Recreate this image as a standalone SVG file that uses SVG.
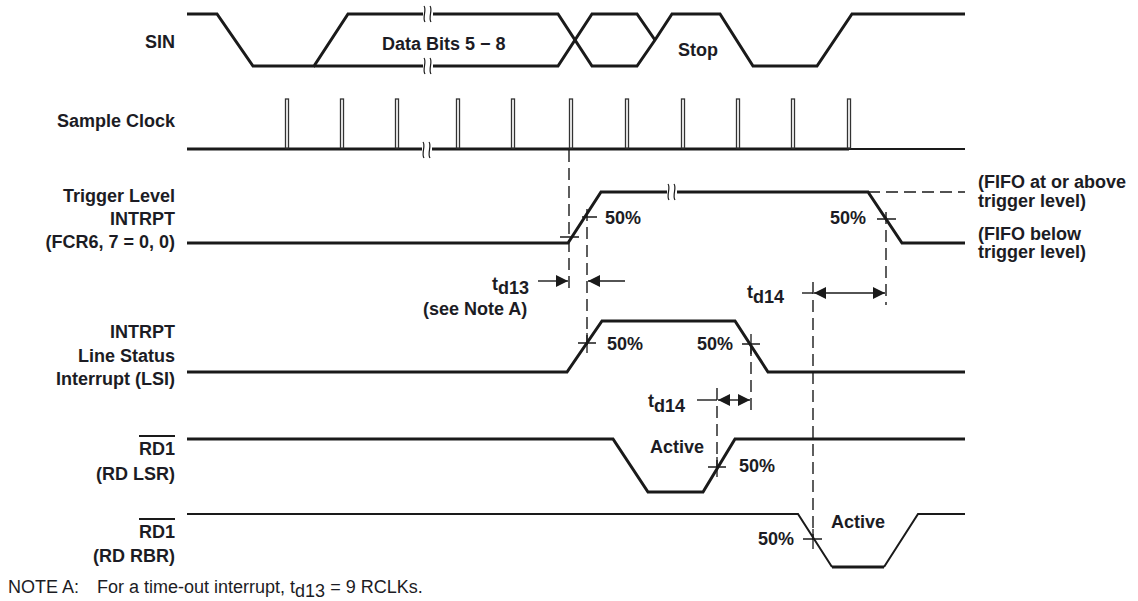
<svg xmlns="http://www.w3.org/2000/svg" width="1138" height="601" viewBox="0 0 1138 601">
<style>
text{font-family:"Liberation Sans",Arial,sans-serif;font-size:18px;fill:#1c1c24;font-weight:bold}
.lbl{text-anchor:end}
.mid{text-anchor:middle}
.note{font-weight:normal}
.tr{fill:none;stroke:#1a1a1a;stroke-width:3;stroke-linejoin:miter}
.thin{fill:none;stroke:#1a1a1a;stroke-width:2}
.dash{fill:none;stroke:#1a1a1a;stroke-width:1.4;stroke-dasharray:12 6}
.x{fill:none;stroke:#1a1a1a;stroke-width:1.3}
.ar{fill:none;stroke:#1a1a1a;stroke-width:1.4}
.pulse{fill:#fff;stroke:#333;stroke-width:1.3}
.ob{stroke:#1a1a1a;stroke-width:2}
</style>
<defs>
<marker id="ah" viewBox="0 0 10 10" refX="10" refY="5" markerWidth="12" markerHeight="12" markerUnits="userSpaceOnUse" orient="auto-start-reverse">
<path d="M0,0 L10,5 L0,10 z" fill="#1a1a1a"/>
</marker>
<g id="brk">
<rect x="-5" y="-7" width="10" height="14" fill="#fff"/>
<path d="M-4,-8 C-1,-4 -6,3 -3,8 M2,-8 C5,-4 0,3 3,8" fill="none" stroke="#1a1a1a" stroke-width="1.2"/>
</g>
</defs>
<rect width="1138" height="601" fill="#fff"/>

<g id="sin">
<text class="lbl" x="175" y="48">SIN</text>
<path class="tr" d="M187,14 H217 L253,66 H314 L348,14 H558 L592,66 H637 L655,40 L672,14 H720 L753,66 H817 L852,14 H965"/>
<path class="tr" d="M314,66 H558 L592,14 H637 L655,40"/>
<use href="#brk" x="428" y="14"/>
<use href="#brk" x="428" y="66"/>
<text x="382" y="50">Data Bits 5 − 8</text>
<text x="678" y="56">Stop</text>
</g>

<g id="sample-clock">
<text class="lbl" x="175" y="127">Sample Clock</text>
<path class="tr" d="M187,149 H849"/>
<path class="thin" d="M849,149 H965"/>
<rect class="pulse" x="285.5" y="99" width="3" height="49"/>
<rect class="pulse" x="340.5" y="99" width="3" height="49"/>
<rect class="pulse" x="395.5" y="99" width="3" height="49"/>
<rect class="pulse" x="456.5" y="99" width="3" height="49"/>
<rect class="pulse" x="511.5" y="99" width="3" height="49"/>
<rect class="pulse" x="569.5" y="99" width="3" height="49"/>
<rect class="pulse" x="625.5" y="99" width="3" height="49"/>
<rect class="pulse" x="681.5" y="99" width="3" height="49"/>
<rect class="pulse" x="736.5" y="99" width="3" height="49"/>
<rect class="pulse" x="791.5" y="99" width="3" height="49"/>
<rect class="pulse" x="847.5" y="99" width="3" height="49"/>
<use href="#brk" x="427" y="150"/>
</g>

<g id="trigger-intrpt">
<text class="lbl" x="175" y="202">Trigger Level</text>
<text class="lbl" x="175" y="225">INTRPT</text>
<text class="lbl" x="175" y="248">(FCR6, 7 = 0, 0)</text>
<path class="tr" d="M187,243 H568 L601,192 H868 L902,243 H965"/>
<path class="dash" d="M868,192 H965"/>
<use href="#brk" x="672" y="192"/>
<path class="x" d="M560,237 H579 M582,217 H597 M877,219 H896"/>
<text class="mid" x="623" y="224">50%</text>
<text class="mid" x="848" y="224">50%</text>
<text x="978" y="188">(FIFO at or above</text>
<text x="978" y="207">trigger level)</text>
<text x="978" y="240">(FIFO below</text>
<text x="978" y="258">trigger level)</text>
</g>

<g id="intrpt-lsi">
<text class="lbl" x="175" y="338">INTRPT</text>
<text class="lbl" x="175" y="362">Line Status</text>
<text class="lbl" x="175" y="385">Interrupt (LSI)</text>
<path class="tr" d="M187,372 H567 L602,321 H735 L768,372 H965"/>
<path class="x" d="M578,343 H596 M742,344 H760 M587,333 V353 M751,334 V354"/>
<text class="mid" x="625" y="350">50%</text>
<text class="mid" x="715" y="350">50%</text>
</g>

<g id="rd-lsr">
<text class="lbl" x="175" y="455">RD1</text>
<line class="ob" x1="139" y1="436" x2="175" y2="436"/>
<text class="lbl" x="175" y="480">(RD LSR)</text>
<path class="tr" d="M187,439 H613 L648,492 H703 L735,439 H965"/>
<path class="x" d="M708,467 H726 M717,457 V477"/>
<text class="mid" x="677" y="453">Active</text>
<text class="mid" x="757" y="472">50%</text>
</g>

<g id="rd-rbr">
<text class="lbl" x="175" y="538">RD1</text>
<line class="ob" x1="139" y1="519" x2="175" y2="519"/>
<text class="lbl" x="175" y="562">(RD RBR)</text>
<path class="thin" d="M187,514 H798 L832,567"/>
<path class="tr" d="M832,567 H884"/>
<path class="thin" d="M884,567 L918,514 H965"/>
<path class="x" d="M803,539 H822 M813,529 V549"/>
<text class="mid" x="858" y="528">Active</text>
<text class="mid" x="776" y="545">50%</text>
</g>

<g id="connectors">
<path class="dash" d="M569,150 V294"/>
<path class="dash" d="M587,209 V345"/>
<path class="dash" d="M886,212 V305"/>
<path class="dash" d="M813,282 V540"/>
<path class="dash" d="M751,344 V410"/>
<path class="dash" d="M717,388 V468"/>
<path class="ar" d="M538,281 H568" marker-end="url(#ah)"/>
<path class="ar" d="M625,281 H588" marker-end="url(#ah)"/>
<path class="ar" d="M802,293 H813"/>
<path class="ar" d="M814,293 H885" marker-start="url(#ah)" marker-end="url(#ah)"/>
<path class="ar" d="M697,400 H717"/>
<path class="ar" d="M718,400 H750" marker-start="url(#ah)" marker-end="url(#ah)"/>
<text x="492" y="290">t<tspan dy="4">d13</tspan></text>
<text x="423" y="315">(see Note A)</text>
<text x="747" y="298">t<tspan dy="5">d14</tspan></text>
<text x="648" y="407">t<tspan dy="5">d14</tspan></text>
</g>

<text class="note" x="8" y="593">NOTE A:</text>
<text class="note" x="97" y="593">For a time-out interrupt, t<tspan dy="4">d13</tspan><tspan dy="-4"> = 9 RCLKs.</tspan></text>
</svg>
